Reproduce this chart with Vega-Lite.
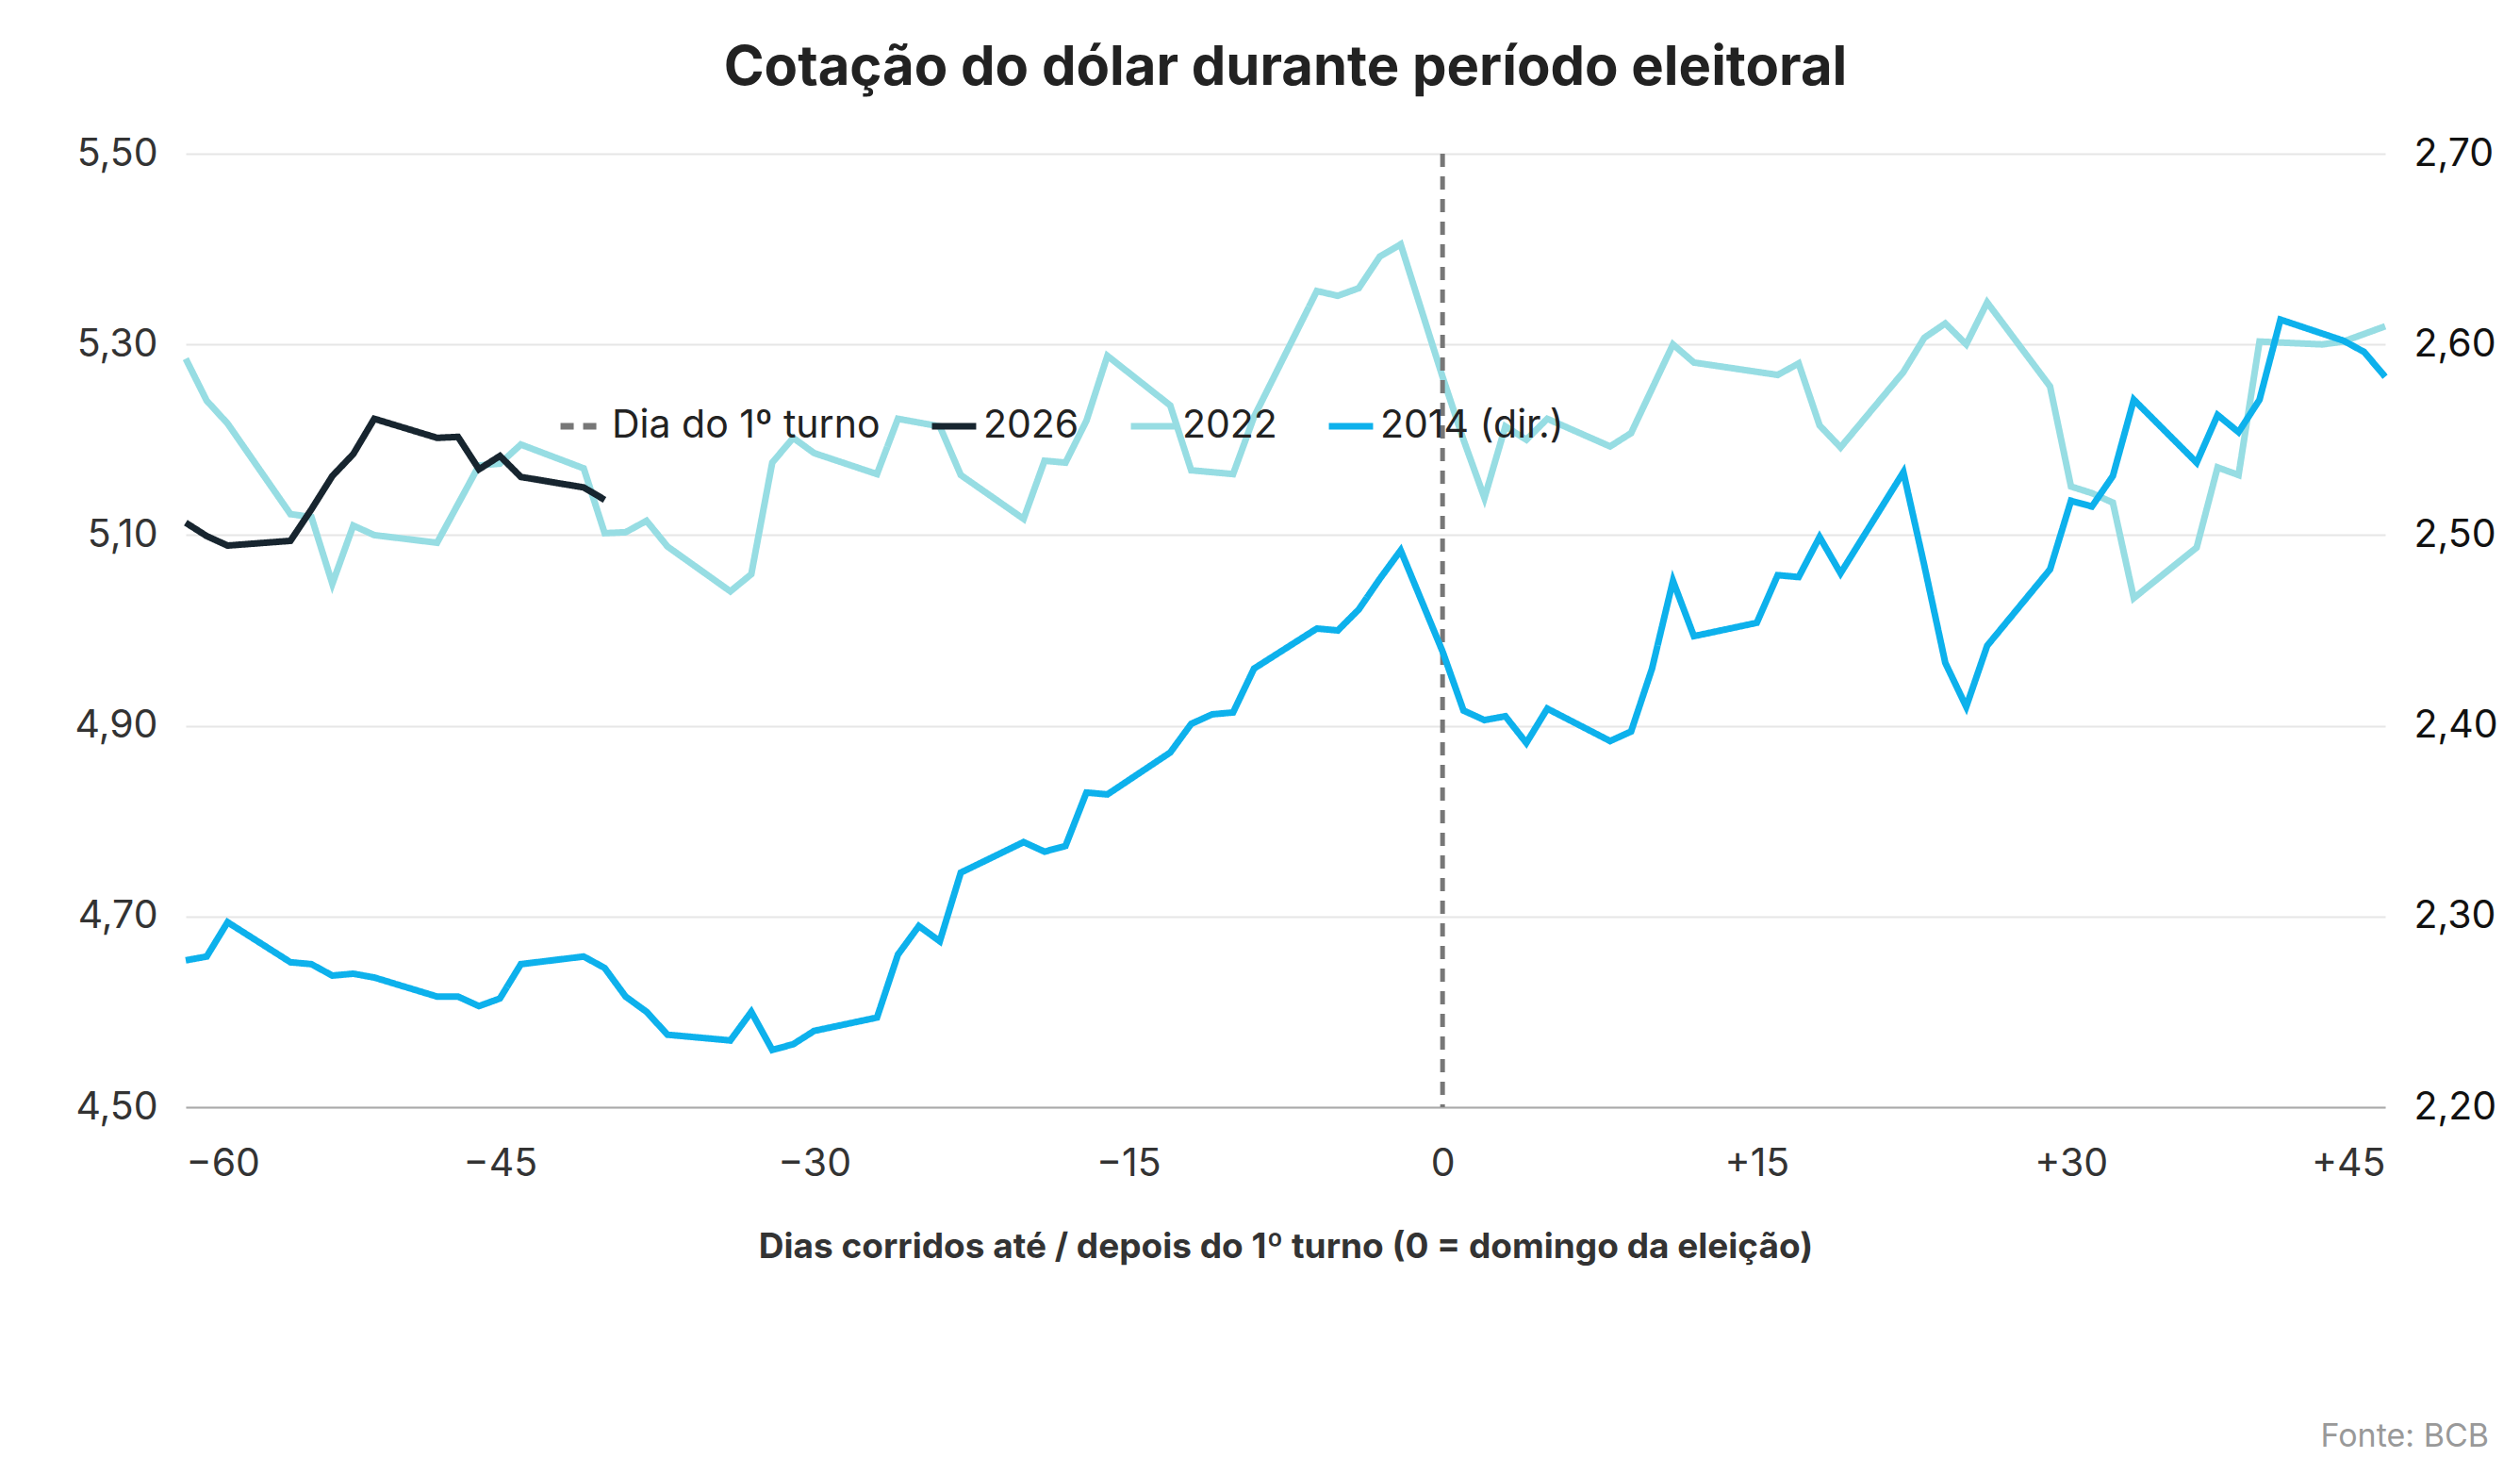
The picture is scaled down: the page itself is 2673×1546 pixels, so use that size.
{
"$schema":"https://vega.github.io/schema/vega-lite/v6.json",
"width":2333,"height":1011,
"autosize":{"type":"none"},
"padding":{"left":197,"top":163,"right":143,"bottom":372},
"background":"white",
"title":{"text":"Cotação do dólar durante período eleitoral","fontSize":58,"fontWeight":"bold","color":"#222","anchor":"middle","offset":40,"font":"Inter"},
"datasets":{
"d26":[{"d":-60,"v":5.113},{"d":-59,"v":5.099},{"d":-58,"v":5.089},{"d":-55,"v":5.094},{"d":-54,"v":5.127},{"d":-53,"v":5.162},{"d":-52,"v":5.185},{"d":-51,"v":5.222},{"d":-48,"v":5.202},{"d":-47,"v":5.203},{"d":-46,"v":5.169},{"d":-45,"v":5.183},{"d":-44,"v":5.161},{"d":-41,"v":5.15},{"d":-40,"v":5.137}],
"d22":[{"d":-60,"v":5.285},{"d":-59,"v":5.241},{"d":-58,"v":5.217},{"d":-55,"v":5.122},{"d":-54,"v":5.119},{"d":-53,"v":5.049},{"d":-52,"v":5.11},{"d":-51,"v":5.1},{"d":-48,"v":5.092},{"d":-46,"v":5.173},{"d":-45,"v":5.175},{"d":-44,"v":5.195},{"d":-41,"v":5.17},{"d":-40,"v":5.102},{"d":-39,"v":5.103},{"d":-38,"v":5.115},{"d":-37,"v":5.088},{"d":-34,"v":5.041},{"d":-33,"v":5.059},{"d":-32,"v":5.176},{"d":-31,"v":5.202},{"d":-30,"v":5.186},{"d":-27,"v":5.164},{"d":-26,"v":5.222},{"d":-24,"v":5.214},{"d":-23,"v":5.163},{"d":-20,"v":5.117},{"d":-19,"v":5.178},{"d":-18,"v":5.176},{"d":-17,"v":5.22},{"d":-16,"v":5.288},{"d":-13,"v":5.236},{"d":-12,"v":5.168},{"d":-10,"v":5.164},{"d":-9,"v":5.224},{"d":-6,"v":5.356},{"d":-5,"v":5.351},{"d":-4,"v":5.359},{"d":-3,"v":5.392},{"d":-2,"v":5.405},{"d":0,"v":5.266},{"d":1,"v":5.2},{"d":2,"v":5.139},{"d":3,"v":5.214},{"d":4,"v":5.2},{"d":5,"v":5.222},{"d":8,"v":5.193},{"d":9,"v":5.207},{"d":11,"v":5.3},{"d":12,"v":5.281},{"d":16,"v":5.268},{"d":17,"v":5.28},{"d":18,"v":5.215},{"d":19,"v":5.192},{"d":22,"v":5.271},{"d":23,"v":5.307},{"d":24,"v":5.322},{"d":25,"v":5.3},{"d":26,"v":5.344},{"d":29,"v":5.256},{"d":30,"v":5.151},{"d":31,"v":5.144},{"d":32,"v":5.134},{"d":33,"v":5.034},{"d":36,"v":5.087},{"d":37,"v":5.171},{"d":38,"v":5.163},{"d":39,"v":5.303},{"d":42,"v":5.3},{"d":43,"v":5.303},{"d":45,"v":5.319}],
"d14":[{"d":-60,"v":2.277},{"d":-59,"v":2.279},{"d":-58,"v":2.297},{"d":-55,"v":2.276},{"d":-54,"v":2.275},{"d":-53,"v":2.269},{"d":-52,"v":2.27},{"d":-51,"v":2.268},{"d":-48,"v":2.258},{"d":-47,"v":2.258},{"d":-46,"v":2.253},{"d":-45,"v":2.257},{"d":-44,"v":2.275},{"d":-41,"v":2.279},{"d":-40,"v":2.273},{"d":-39,"v":2.258},{"d":-38,"v":2.25},{"d":-37,"v":2.238},{"d":-34,"v":2.235},{"d":-33,"v":2.25},{"d":-32,"v":2.23},{"d":-31,"v":2.233},{"d":-30,"v":2.24},{"d":-27,"v":2.247},{"d":-26,"v":2.28},{"d":-25,"v":2.295},{"d":-24,"v":2.287},{"d":-23,"v":2.323},{"d":-20,"v":2.339},{"d":-19,"v":2.334},{"d":-18,"v":2.337},{"d":-17,"v":2.365},{"d":-16,"v":2.364},{"d":-13,"v":2.386},{"d":-12,"v":2.401},{"d":-11,"v":2.406},{"d":-10,"v":2.407},{"d":-9,"v":2.43},{"d":-6,"v":2.451},{"d":-5,"v":2.45},{"d":-4,"v":2.461},{"d":-3,"v":2.477},{"d":-2,"v":2.492},{"d":0,"v":2.439},{"d":1,"v":2.408},{"d":2,"v":2.403},{"d":3,"v":2.405},{"d":4,"v":2.391},{"d":5,"v":2.409},{"d":8,"v":2.392},{"d":9,"v":2.397},{"d":10,"v":2.43},{"d":11,"v":2.476},{"d":12,"v":2.447},{"d":15,"v":2.454},{"d":16,"v":2.479},{"d":17,"v":2.478},{"d":18,"v":2.499},{"d":19,"v":2.48},{"d":22,"v":2.533},{"d":23,"v":2.484},{"d":24,"v":2.433},{"d":25,"v":2.41},{"d":26,"v":2.442},{"d":29,"v":2.482},{"d":30,"v":2.518},{"d":31,"v":2.515},{"d":32,"v":2.531},{"d":33,"v":2.571},{"d":36,"v":2.538},{"d":37,"v":2.563},{"d":38,"v":2.554},{"d":39,"v":2.571},{"d":40,"v":2.613},{"d":43,"v":2.602},{"d":44,"v":2.596},{"d":45,"v":2.583}]
},
"encoding":{
"x":{"field":"d","type":"quantitative","scale":{"domain":[-60,45],"nice":false,"zero":false},
"axis":{"values":[-60,-45,-30,-15,0,15,30,45],"labelExpr":"datum.value>0?'+'+datum.value:(datum.value<0?'−'+(-datum.value):'0')","labelFontSize":41,"labelColor":"#333","labelPadding":40,"grid":false,"ticks":false,"domainColor":"#aaa","domainWidth":2,
"title":"Dias corridos até / depois do 1º turno   (0 = domingo da eleição)","titleFontSize":37,"titleFontWeight":"bold","titleColor":"#333","titlePadding":50}},
"color":{"scale":{"domain":["Dia do 1º turno","2026","2022","2014 (dir.)"],"range":["#777777","#17252f","#97dde3","#0db1ec"]}},
"strokeDash":{"scale":{"domain":["Dia do 1º turno","2026","2022","2014 (dir.)"],"range":[[14,10],[1,0],[1,0],[1,0]]}}
},
"layer":[
{"layer":[
{"data":{"name":"d22"},"mark":{"type":"line","strokeWidth":7},"encoding":{"y":{"field":"v","type":"quantitative"},"color":{"datum":"2022","scale":{"domain":["Dia do 1º turno","2026","2022","2014 (dir.)"],"range":["#777777","#17252f","#97dde3","#0db1ec"]}},"strokeDash":{"datum":"2022","scale":{"domain":["Dia do 1º turno","2026","2022","2014 (dir.)"],"range":[[14,10],[1,0],[1,0],[1,0]]}}}},
{"data":{"name":"d26"},"mark":{"type":"line","strokeWidth":7},"encoding":{"y":{"field":"v","type":"quantitative","scale":{"domain":[4.5,5.5],"nice":false,"zero":false},"axis":{"values":[4.5,4.7,4.9,5.1,5.3,5.5],"labelExpr":"replace(format(datum.value,'.2f'),'.',',')","labelFontSize":41,"labelColor":"#333","domain":false,"ticks":false,"labelPadding":30,"gridColor":"#e6e6e6","gridWidth":2,"title":null}},"color":{"datum":"2026"},"strokeDash":{"datum":"2026"}}},
{"data":{"values":[{"d":0}]},"mark":{"type":"rule","strokeWidth":5},"encoding":{"color":{"datum":"Dia do 1º turno"},"strokeDash":{"datum":"Dia do 1º turno"}}}
]},
{"data":{"name":"d14"},"mark":{"type":"line","strokeWidth":7},"encoding":{"y":{"field":"v","type":"quantitative","scale":{"domain":[2.2,2.7],"nice":false,"zero":false},"axis":{"orient":"right","values":[2.2,2.3,2.4,2.5,2.6,2.7],"labelExpr":"replace(format(datum.value,'.2f'),'.',',')","labelFontSize":41,"labelColor":"#111","domain":false,"ticks":false,"grid":false,"labelPadding":30,"title":null}},"color":{"datum":"2014 (dir.)"},"strokeDash":{"datum":"2014 (dir.)"}}},
{"data":{"values":[{"d":45,"v":4.5,"t":"Fonte: BCB"}]},"mark":{"type":"text","align":"right","dy":350,"dx":110,"fontSize":34,"color":"#999","clip":false},"encoding":{"text":{"field":"t"},"y":{"field":"v","type":"quantitative","scale":{"domain":[4.5,5.5]},"axis":null}}}
],
"resolve":{"scale":{"y":"independent"}},
"config":{"font":"Inter","view":{"stroke":null},
"legend":{"orient":"none","legendX":394,"legendY":262,"direction":"horizontal","title":null,"labelFontSize":41,"labelColor":"#222","symbolType":"stroke","symbolStrokeWidth":7,"symbolSize":2200,"columnPadding":40,"labelLimit":500}}
}
